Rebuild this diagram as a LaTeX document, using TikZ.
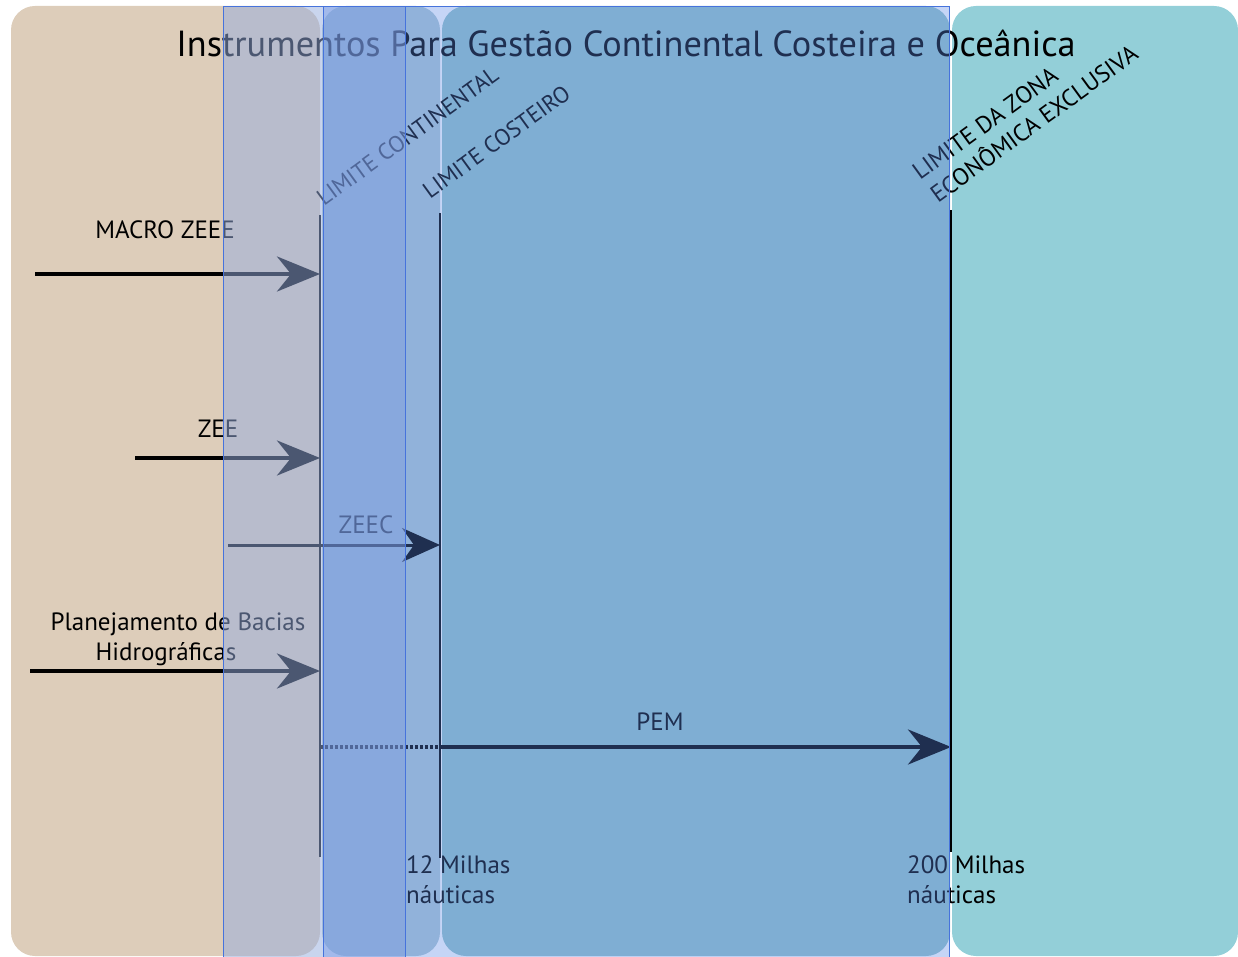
\documentclass[tikz,border=0pt]{standalone}
\usepackage{fontspec}
\setmainfont{PT Sans}
\usetikzlibrary{arrows.meta}
\definecolor{panelbeige}{RGB}{221,205,186}
\definecolor{panelteal}{RGB}{147,207,216}
\definecolor{panellight}{RGB}{175,202,212}
\definecolor{panelblue}{RGB}{148,195,202}
\definecolor{ovA}{RGB}{149,172,222}
\definecolor{ovB}{RGB}{90,135,230}
\definecolor{ovline}{RGB}{70,115,220}
\tikzset{
  panel/.style={rounded corners=24pt},
  lbl/.style={font=\fontsize{25}{28}\selectfont, inner sep=0pt, anchor=base},
  lblw/.style={font=\fontsize{25}{28}\selectfont, inner sep=0pt, anchor=base west},
  limlbl/.style={font=\fontsize{23}{26}\selectfont, inner sep=0pt, rotate=36, anchor=base west},
  limline/.style={line width=2pt},
  arr/.style={line width=4pt, -{Stealth[length=43pt,width=35pt,inset=14pt]}},
  arrthin/.style={line width=3pt, -{Stealth[length=38pt,width=34pt,inset=12pt]}},
}
\begin{document}
\begin{tikzpicture}[x=1pt,y=-1pt]
\useasboundingbox (0,0) rectangle (1238,957);
% panels
\fill[panelbeige, panel] (11,6) rectangle (320,956);
\fill[panellight, panel] (322,6) rectangle (440,956);
\fill[panelblue, panel] (442,6) rectangle (950,956);
\fill[panelteal, panel] (952,6) rectangle (1238,956);
% title
\node[font=\fontsize{36.3}{40}\selectfont, inner sep=0pt, anchor=base] (title) at (626,57) {Instrumentos Para Gestão Continental Costeira e Oceânica};
% limit labels
\node[limlbl] (lcont) at (324,207) {LIMITE CONTINENTAL};
\node[limlbl] (lcost) at (430,200) {LIMITE COSTEIRO};
\node[limlbl, font=\fontsize{24}{27}\selectfont] (lzee1) at (920,181) {LIMITE DA ZONA};
\node[limlbl, font=\fontsize{24}{27}\selectfont] (lzee2) at (938,204) {ECONÔMICA EXCLUSIVA};
% limit lines
\coordinate (lc1) at (320,215); \coordinate (lc2) at (320,857);
\coordinate (ls1) at (440,213); \coordinate (ls2) at (440,858);
\coordinate (lz1) at (951,210); \coordinate (lz2) at (951,852);
\draw[limline] (lc1) -- (lc2);
\draw[limline] (ls1) -- (ls2);
\draw[limline] (lz1) -- (lz2);
% instrument labels
\node[lbl] (macro) at (165,239) {MACRO ZEEE};
\node[lbl] (zee) at (218,437) {ZEE};
\node[lbl] (zeec) at (366,533) {ZEEC};
\node[lbl] (plan1) at (178,630) {Planejamento de Bacias};
\node[lbl] (plan2) at (166,660) {Hidrográficas};
\node[lbl] (pem) at (660,730) {PEM};
\node[lblw] (m12a) at (406,873) {12 Milhas};
\node[lblw] (m12b) at (406,903) {náuticas};
\node[lblw] (m200a) at (907,873) {200 Milhas};
\node[lblw] (m200b) at (907,903) {náuticas};
% arrows
\coordinate (a1s) at (35,274); \coordinate (a1e) at (320,274);
\coordinate (a2s) at (135,458); \coordinate (a2e) at (320,458);
\coordinate (a3s) at (228,545); \coordinate (a3e) at (440,545);
\coordinate (a4s) at (30,671); \coordinate (a4e) at (320,671);
\coordinate (a5s) at (320,747); \coordinate (a5m) at (440,747); \coordinate (a5e) at (951,747);
\draw[arr] (a1s) -- (a1e);
\draw[arr] (a2s) -- (a2e);
\draw[arrthin] (a3s) -- (a3e);
\draw[arr] (a4s) -- (a4e);
\draw[line width=4pt, dash pattern=on 3pt off 2pt] (a5s) -- (a5m);
\draw[arr] (a5m) -- (a5e);
% overlays
\fill[ovA, opacity=0.51] (223,7) rectangle (405,957);
\fill[ovB, opacity=0.35] (323,7) rectangle (949,957);
\draw[ovline, line width=1pt] (223,957) -- (223,7) -- (949,7) -- (949,957);
\draw[ovline, line width=1pt] (323,7) -- (323,957);
\draw[ovline, line width=1pt] (405,7) -- (405,957);
\end{tikzpicture}
\end{document}
